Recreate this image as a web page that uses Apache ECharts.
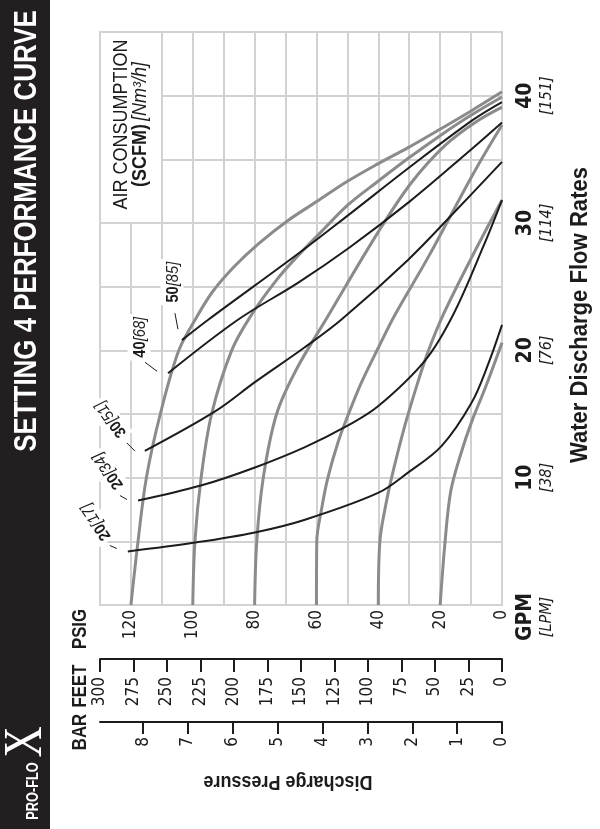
<!DOCTYPE html>
<html><head><meta charset="utf-8">
<script src="https://cdn.jsdelivr.net/npm/echarts@6/dist/echarts.min.js"></script>
<style>html,body{margin:0;padding:0;background:#fff}#c{width:600px;height:829px}</style>
</head><body><div id="c"></div>
<script>
const FONT = '"DejaVu Sans Condensed","Liberation Sans",sans-serif';
const HFONT = '"Liberation Sans",Arial,sans-serif';

// tick labels
const psiTicks = [0, 20, 40, 60, 80, 100, 120];
const feetTicks = [0, 25, 50, 75, 100, 125, 150, 175, 200, 225, 250, 275, 300];
const barTicks = [0, 1, 2, 3, 4, 5, 6, 7, 8];
const gpmTicks = [0, 10, 20, 30, 40];
const lpmLabels = ['[LPM]', '[38]', '[76]', '[114]', '[151]'];

// air supply pressure curves (grey): [GPM, PSIG]
const air120 = [[0,120],[5,117.7],[10,115],[15,110.5],[20,104.5],[22.5,99],[24.6,93.6],[26.6,86.5],[28.4,78.6],[30.2,69.2],[31.7,59.8],[33.2,50.5],[34.6,40.5],[35.9,30.5],[37.3,20.5],[38.8,10],[40.3,0]];
const air100 = [[0,100],[5,99.3],[10,97.3],[15,93.9],[20,87.4],[22.8,81],[25.5,73],[27.3,66.5],[29.3,58.5],[31.4,49.9],[33.2,40.5],[35.1,30.2],[36.9,19.8],[38.5,9.8],[39.9,0]];
const air80 = [[0,80],[5,79.3],[10,77.2],[15,72.9],[18.5,66.5],[22.6,56.5],[29.3,40],[33.2,29.2],[36.1,18.4],[37.9,8.7],[39.1,0]];
const air60 = [[0,60],[5,59.9],[7.6,58.3],[10,56.3],[12.8,53],[14.9,49.8],[17.5,45.4],[20.2,40],[22.8,34.6],[27.3,23.9],[32.4,12.6],[35.1,6.4],[37.7,0]];
const air40 = [[0,40],[5,39.5],[7.6,37.8],[10,35.7],[14.1,31.4],[17.5,27.2],[19.9,23.9],[22.8,19],[27.3,9.8],[31.8,0]];
const air20 = [[0,20],[5,18.4],[8.9,16.6],[11.8,13.4],[14.4,9.8],[17,5.5],[20.6,0]];

// air consumption curves (black): [GPM, PSIG]
const scfm20a = [[4.2,121],[4.9,99.3],[5.7,79.9],[6.7,63.7],[8.8,40.1],[10.4,30.4],[12.5,19.5],[15.9,9.8],[18.9,4.5],[22,0]];
const scfm20b = [[8.2,117.7],[9.4,97.1],[10.8,79.9],[12.4,63.7],[14.1,49.8],[15.6,40.1],[19.2,24.9],[22.8,15.8],[28.3,5.8],[31.8,0]];
const scfm30 = [[12.1,115.5],[15.2,92.8],[17.5,79.9],[20.2,64],[22.4,52],[27.1,30.4],[30.9,15.2],[34.8,0]];
const scfm40 = [[18.2,108],[22.4,85.4],[25.3,66],[28.1,49.2],[31.7,29.8],[35.5,11.3],[37.9,0]];
const scfm50 = [[20.8,103.5],[22.4,95],[27.7,65.3],[30.6,49.8],[34.4,29.8],[38.1,9.4],[39.5,0]];

const scfmNames = ['20', '20', '30', '40', '50'];
const nm3Names = ['[17]', '[34]', '[51]', '[68]', '[85]'];

const PSI_MAX = 130, GPM_MAX = 45;
const FT_PER_PSI = 2.3077, PSI_PER_BAR = 14.5038;

const GRID = '#d2d2d2', GREY = '#8b8b8b', INK = '#1d1b1c';

const chart = echarts.init(document.getElementById('c'), null, {renderer: 'canvas'});

function toXY(arr) { return arr.map(p => [p[1], p[0]]); }
function grey(name, arr) {
  return {name, type: 'line', data: toXY(arr), showSymbol: false, smooth: 0.35, silent: true, z: 2,
    lineStyle: {color: GREY, width: 3}};
}
function black(name, arr) {
  return {name, type: 'line', data: toXY(arr), showSymbol: false, smooth: 0.35, silent: true, z: 3,
    lineStyle: {color: INK, width: 2}};
}

const option = {
  animation: false,
  backgroundColor: '#fff',
  grid: {left: 100, right: 98, top: 32, bottom: 224, show: true, borderColor: GRID, borderWidth: 2},
  xAxis: [
    {type: 'value', min: 0, max: PSI_MAX, interval: 10, inverse: true, position: 'bottom',
      axisLine: {show: false}, axisTick: {show: false},
      splitLine: {show: true, lineStyle: {color: GRID, width: 2}},
      axisLabel: {customValues: psiTicks, rotate: 90, margin: 5, align: 'right', verticalAlign: 'middle',
        fontFamily: FONT, fontSize: 17, color: INK}},
    {type: 'value', min: 0, max: Math.round(PSI_MAX * FT_PER_PSI), interval: 25, inverse: true, position: 'bottom', offset: 54,
      axisLine: {show: true, lineStyle: {color: INK, width: 2}},
      axisTick: {show: true, length: 13, lineStyle: {color: INK, width: 2}},
      splitLine: {show: false},
      axisLabel: {customValues: feetTicks, rotate: 90, margin: 18, align: 'right', verticalAlign: 'middle',
        fontFamily: FONT, fontSize: 17, color: INK}},
    {type: 'value', min: 0, max: PSI_MAX / PSI_PER_BAR, inverse: true, position: 'bottom', offset: 117,
      axisLine: {show: true, lineStyle: {color: INK, width: 2}},
      axisTick: {show: true, length: 12, customValues: barTicks, lineStyle: {color: INK, width: 2}},
      splitLine: {show: false},
      axisLabel: {customValues: barTicks, rotate: 90, margin: 15, align: 'right', verticalAlign: 'middle',
        fontFamily: FONT, fontSize: 17, color: INK}}
  ],
  yAxis: {type: 'value', min: 0, max: GPM_MAX, interval: 5, position: 'right',
    axisLine: {show: false}, axisTick: {show: false},
    splitLine: {show: true, lineStyle: {color: GRID, width: 2}},
    axisLabel: {customValues: gpmTicks, rotate: 90, margin: 12, align: 'center', verticalAlign: 'top',
      formatter: function (v) {
        const i = gpmTicks.indexOf(v);
        if (i === 0) return '{g|GPM}\n{gl|' + lpmLabels[0] + '}';
        return '{b|' + v + '}\n{l|' + lpmLabels[i] + '}';
      },
      rich: {
        b: {fontFamily: FONT, fontWeight: 'bold', fontSize: 21, lineHeight: 23, color: INK},
        l: {fontFamily: FONT, fontStyle: 'italic', fontSize: 16, lineHeight: 19, color: INK},
        g: {fontFamily: FONT, fontWeight: 'bold', fontSize: 21, lineHeight: 23, color: INK, padding: [0, 24, 0, 0]},
        gl: {fontFamily: FONT, fontStyle: 'italic', fontSize: 16, lineHeight: 19, color: INK, padding: [0, 24, 0, 0]}
      }}},
  series: [
    grey('120 PSIG', air120), grey('100 PSIG', air100), grey('80 PSIG', air80),
    grey('60 PSIG', air60), grey('40 PSIG', air40), grey('20 PSIG', air20),
    black('20[17]', scfm20a), black('20[34]', scfm20b), black('30[51]', scfm30),
    black('40[68]', scfm40), black('50[85]', scfm50)
  ]
};
chart.setOption(option);

// decorations positioned from the axes
const P = (psi, gpm) => chart.convertToPixel({gridIndex: 0}, [psi, gpm]);
const tl = P(PSI_MAX, GPM_MAX), br = P(110, 30);
const blackSets = [scfm20a, scfm20b, scfm30, scfm40, scfm50];
// label offsets relative to each curve's start [text dx, dy, rotation deg, leader x1,y1,x2,y2]
const lblOff = [
  [-33, -29, 123, -18, -6, -11, -3],
  [-31, -29, 125, -18, -5, -11, -1],
  [-35, -31, 127, -18, -8, -10, 0],
  [-29, -36, 90, -23, -11, -11, -2],
  [-10, -58, 90, -7, -27, -4, -11]
];
function vtext(x, y, text, size, sx, extra) {
  return Object.assign({type: 'text', x, y, rotation: Math.PI / 2, scaleX: sx, z: 6,
    style: {text, fill: INK, fontFamily: HFONT, fontWeight: 'bold', fontSize: size, align: 'center', verticalAlign: 'middle'}}, extra || {});
}
const graphics = [
  {type: 'rect', shape: {x: 0, y: 0, width: 50, height: 829}, style: {fill: '#231f20'}, z: 10},
  {type: 'text', x: 27, y: 231, rotation: Math.PI / 2, scaleX: 0.81, z: 11,
    style: {text: 'SETTING 4 PERFORMANCE CURVE', fill: '#fff', fontFamily: HFONT, fontWeight: 'bold', fontSize: 32, align: 'center', verticalAlign: 'middle'}},
  {type: 'text', x: 34, y: 791, rotation: Math.PI / 2, scaleX: 0.8, z: 11,
    style: {text: 'PRO-FLO', fill: '#fff', fontFamily: HFONT, fontWeight: 'bold', fontSize: 16, align: 'center', verticalAlign: 'middle'}},
  {type: 'text', x: 27, y: 742, rotation: Math.PI / 2, scaleX: 0.8, z: 11,
    style: {text: 'X', fill: '#fff', fontFamily: '"Liberation Serif",serif', fontSize: 54, align: 'center', verticalAlign: 'middle'}},
  {type: 'rect', shape: {x: tl[0] + 1, y: tl[1] + 1, width: br[0] - tl[0] - 2, height: br[1] - tl[1] - 2}, style: {fill: '#fff'}, z: 5},
  {type: 'text', x: (tl[0] + br[0]) / 2, y: (tl[1] + br[1]) / 2 - 3, rotation: Math.PI / 2, scaleX: 0.9, z: 6,
    style: {text: '{a|AIR CONSUMPTION}\n{b|(SCFM)} {c|[Nm³/h]}', align: 'center', verticalAlign: 'middle',
      rich: {a: {fontFamily: HFONT, fontSize: 20, lineHeight: 19, fill: INK},
             b: {fontFamily: HFONT, fontWeight: 'bold', fontSize: 20, lineHeight: 19, fill: INK},
             c: {fontFamily: HFONT, fontStyle: 'italic', fontSize: 20, lineHeight: 19, fill: INK}}}},
  vtext(580, 315, 'Water Discharge Flow Rates', 24, 0.92),
  {type: 'text', x: 288, y: 782, rotation: Math.PI, scaleX: 0.9, z: 6,
    style: {text: 'Discharge Pressure', fill: INK, fontFamily: HFONT, fontWeight: 'bold', fontSize: 20, align: 'center', verticalAlign: 'middle'}},
  vtext(80, 629, 'PSIG', 21, 0.8),
  vtext(80, 686, 'FEET', 21, 0.8),
  vtext(80, 732, 'BAR', 21, 0.8)
];
blackSets.forEach((s, i) => {
  const st = P(s[0][1], s[0][0]);
  const o = lblOff[i];
  graphics.push({type: 'text', x: st[0] + o[0], y: st[1] + o[1], rotation: o[2] * Math.PI / 180, scaleX: 0.92, z: 8,
    style: {text: '{b|' + scfmNames[i] + '}{i|' + nm3Names[i] + '}', align: 'center', verticalAlign: 'middle',
      backgroundColor: '#fff', padding: [5, 3, 2, 3],
      rich: {b: {fontFamily: HFONT, fontWeight: 'bold', fontSize: 16, fill: INK},
             i: {fontFamily: HFONT, fontStyle: 'italic', fontSize: 16, fill: INK}}}});
  graphics.push({type: 'line', z: 8, shape: {x1: st[0] + o[3], y1: st[1] + o[4], x2: st[0] + o[5], y2: st[1] + o[6]},
    style: {stroke: INK, lineWidth: 1}});
});
chart.setOption({graphic: graphics});
</script>
</body></html>
